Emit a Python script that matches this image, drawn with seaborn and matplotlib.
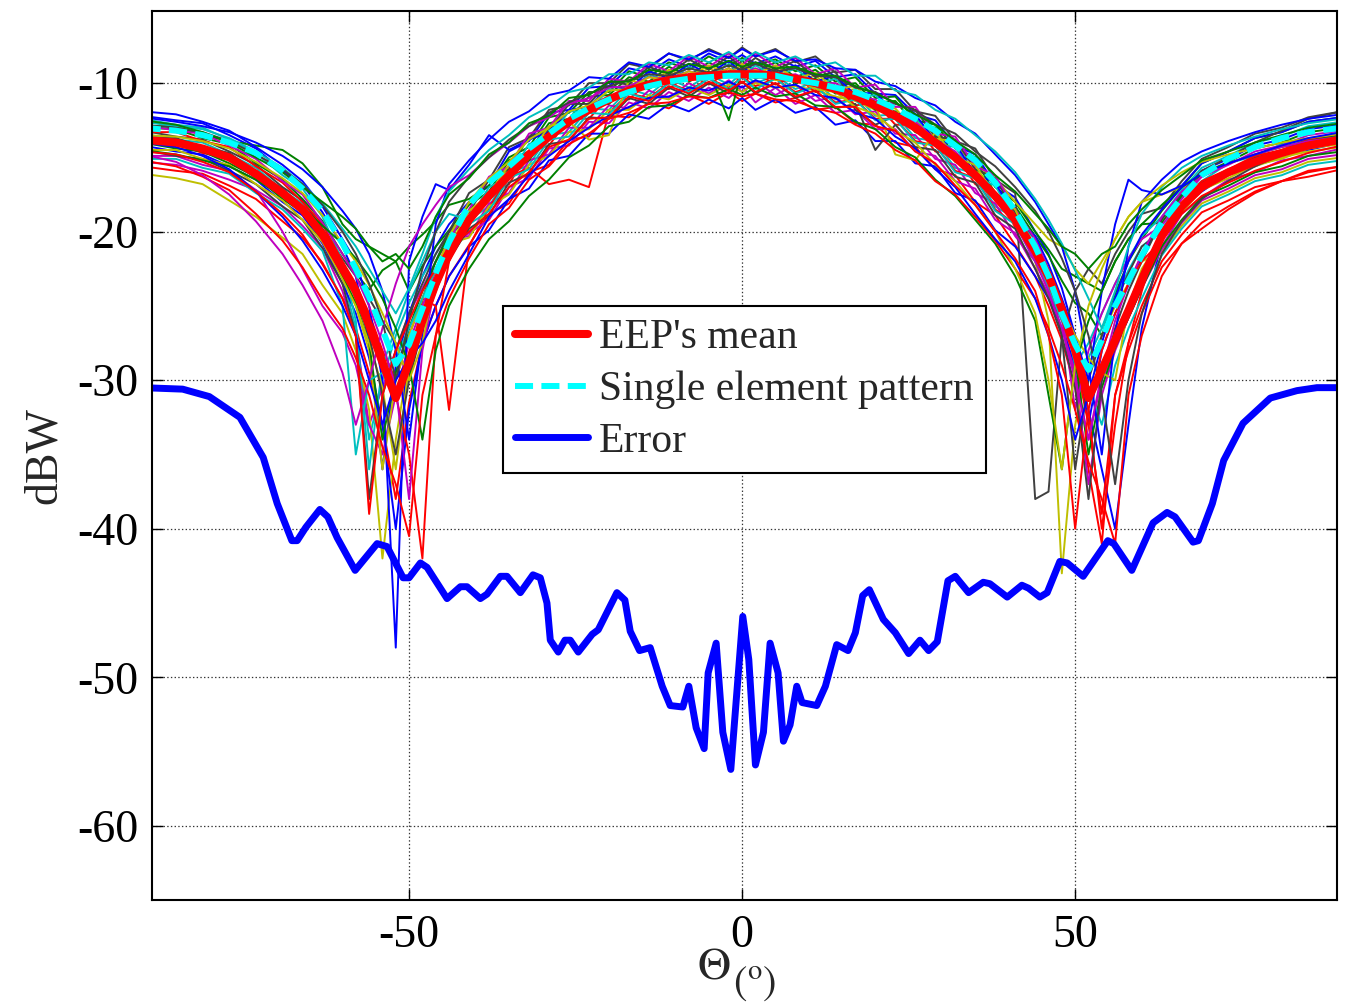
import pandas as pd
import seaborn as sns
import matplotlib
matplotlib.use('Agg')
import matplotlib.pyplot as plt

# angle grid of the embedded element patterns (deg)
theta_eep = [-90, -85, -81, -77, -73, -69, -66, -63,
             -60, -58, -56, -54, -52, -50, -48, -46, -44,
             -41, -38, -35, -32, -29, -26, -23, -20, -17, -14, -11, -8, -5, -2,
             0, 2, 5, 8, 11, 14, 17, 20, 23, 26, 29, 32, 35, 38, 41,
             44, 46, 48, 50, 52, 54, 56, 58, 60,
             63, 66, 69, 73, 77, 81, 85, 90]

mean_eep = [-13.8, -14.0, -14.4, -15.0, -16.1, -17.4, -18.5, -20.2,
            -22.5, -24.0, -26.3, -28.8, -31.2, -28.8, -26.0, -23.5, -21.5,
            -19.2, -17.6, -16.2, -14.8, -13.6, -12.6, -11.8, -11.1, -10.5, -10.1, -9.8, -9.6, -9.5, -9.4,
            -9.4, -9.4, -9.5, -9.7, -10.0, -10.4, -10.9, -11.5, -12.2, -13.0, -14.0, -15.0, -16.2, -17.6, -19.2,
            -21.3, -23.0, -25.2, -28.0, -31.2, -29.3, -27.3, -25.3, -23.2,
            -20.3, -18.3, -17.0, -16.0, -15.3, -14.7, -14.2, -13.8]

single_elem = [-13.0, -13.2, -13.5, -14.0, -14.7, -15.9, -17.1, -18.6,
               -20.8, -22.5, -24.4, -26.6, -28.9, -27.6, -25.2, -22.8, -20.7,
               -18.2, -16.7, -15.6, -14.4, -13.4, -12.4, -11.7, -11.1, -10.6, -10.2, -9.9, -9.7, -9.6, -9.5,
               -9.5, -9.5, -9.5, -9.8, -10.0, -10.3, -10.6, -11.1, -11.7, -12.4, -13.2, -14.2, -15.2, -16.7, -18.6,
               -21.0, -23.0, -25.5, -27.6, -29.3, -27.3, -25.0, -23.3, -21.6,
               -19.4, -17.7, -16.2, -15.1, -14.3, -13.7, -13.3, -13.0]

# individual embedded element patterns (read approximately from the bundle)
t01 = [-12.2, -12.5, -12.7, -13.5, -14.4, -15.9, -16.8, -18.7,
       -21.0, -23.0, -27.5, -36.0, -29.0, -25.5, -23.0, -21.0, -19.5,
       -18.0, -16.9, -14.6, -13.9, -12.0, -11.8, -10.3, -10.2, -9.0, -9.3, -8.4, -8.9, -8.0, -8.6,
       -8.1, -8.7, -8.2, -8.9, -8.5, -9.6, -9.4, -10.7, -10.8, -12.1, -12.5, -14.2, -14.8, -16.8, -17.7,
       -20.0, -21.5, -23.8, -27.0, -33.0, -28.0, -25.5, -23.6, -21.8,
       -19.1, -17.5, -15.9, -15.1, -14.2, -13.8, -13.1, -12.8]
t02 = [-13.0, -13.1, -13.7, -14.1, -15.4, -16.5, -17.8, -19.3,
       -21.5, -22.8, -23.9, -22.6, -22.0, -24.0, -22.3, -21.0, -19.9,
       -18.2, -17.3, -15.2, -14.6, -12.7, -12.4, -10.9, -10.8, -9.6, -9.9, -8.9, -9.5, -8.6, -9.3,
       -8.5, -9.2, -8.6, -9.6, -9.1, -10.2, -10.0, -11.3, -11.2, -12.8, -13.0, -14.9, -15.2, -17.4, -18.3,
       -20.3, -21.6, -23.3, -24.8, -25.5, -27.0, -24.2, -22.0, -20.5,
       -18.6, -17.0, -15.4, -14.6, -13.7, -13.3, -12.6, -12.3]
t03 = [-15.6, -15.9, -16.1, -16.9, -17.8, -19.3, -20.4, -22.1,
       -24.5, -26.5, -29.5, -33.0, -38.0, -31.5, -27.5, -25.0, -23.0,
       -20.9, -18.8, -18.1, -16.0, -15.5, -13.8, -13.6, -12.2, -12.3, -11.3, -11.7, -10.8, -11.4, -10.6,
       -11.2, -10.7, -11.3, -11.0, -11.8, -11.6, -12.7, -12.8, -14.0, -14.3, -15.8, -16.2, -18.0, -18.9, -20.9,
       -23.0, -25.0, -27.3, -30.5, -36.0, -41.0, -31.0, -27.5, -25.0,
       -22.0, -20.2, -18.7, -17.9, -17.0, -16.6, -15.9, -15.6]
t04 = [-13.4, -13.8, -14.0, -14.8, -15.7, -17.2, -18.1, -20.0,
       -23.0, -26.5, -34.0, -30.0, -27.0, -24.8, -23.0, -21.5, -20.0,
       -19.2, -18.3, -16.1, -15.5, -13.5, -13.3, -11.7, -11.8, -10.4, -10.8, -9.7, -10.3, -9.4, -10.1,
       -9.3, -10.0, -9.5, -10.4, -9.9, -11.1, -10.8, -12.2, -12.1, -13.7, -13.9, -15.7, -16.1, -18.3, -19.1,
       -21.0, -23.0, -25.5, -30.0, -28.5, -26.5, -24.5, -22.6, -21.0,
       -19.9, -17.7, -16.6, -15.4, -14.9, -14.1, -13.8, -13.3]
t05 = [-14.9, -14.9, -15.5, -15.9, -17.2, -18.3, -19.6, -21.1,
       -24.0, -27.0, -33.0, -30.5, -28.0, -25.5, -23.8, -22.0, -20.5,
       -20.3, -18.1, -17.4, -15.2, -14.8, -13.0, -13.0, -11.5, -11.7, -10.5, -11.0, -10.0, -10.7, -9.8,
       -10.6, -9.9, -10.8, -10.1, -11.2, -10.9, -12.1, -11.9, -13.4, -13.5, -15.1, -15.5, -17.4, -18.1, -20.3,
       -22.0, -23.8, -26.0, -29.5, -37.0, -31.0, -28.0, -25.8, -23.8,
       -21.0, -18.8, -17.7, -16.5, -16.0, -15.2, -14.9, -14.4]
t06 = [-16.1, -16.4, -16.8, -17.9, -19.0, -20.4, -21.5, -23.6,
       -25.5, -28.0, -32.0, -42.0, -34.0, -28.5, -25.0, -22.5, -20.5,
       -18.6, -17.8, -15.6, -15.0, -13.1, -12.8, -11.3, -11.3, -10.0, -10.3, -9.3, -9.8, -9.0, -9.6,
       -8.9, -9.6, -9.0, -9.9, -9.5, -10.6, -10.4, -11.7, -11.7, -13.2, -13.5, -15.2, -15.7, -17.8, -18.7,
       -22.0, -26.0, -43.0, -33.0, -29.0, -27.0, -25.0, -23.5, -22.0,
       -21.4, -19.6, -18.1, -17.3, -16.4, -16.0, -15.3, -15.0]
t07 = [-13.2, -13.6, -13.8, -14.6, -15.5, -17.0, -17.9, -19.8,
       -21.8, -23.0, -24.5, -26.0, -27.5, -30.0, -24.5, -22.0, -20.0,
       -17.4, -16.5, -14.3, -13.7, -11.8, -11.5, -10.0, -10.0, -8.7, -9.0, -8.0, -8.5, -7.7, -8.3,
       -7.6, -8.2, -7.7, -8.6, -8.2, -9.3, -9.1, -10.4, -10.4, -11.9, -12.2, -13.9, -14.4, -16.5, -17.4,
       -38.0, -37.5, -27.0, -24.0, -22.5, -23.5, -21.5, -20.0, -18.8,
       -18.4, -16.6, -15.1, -14.3, -13.4, -13.0, -12.3, -11.9]
t08 = [-14.2, -14.6, -14.8, -15.6, -16.5, -18.0, -18.9, -20.8,
       -23.5, -25.5, -28.5, -33.0, -40.0, -32.0, -27.5, -25.0, -23.0,
       -21.0, -19.9, -17.8, -17.1, -15.2, -14.9, -13.4, -13.4, -12.1, -12.4, -11.4, -11.9, -11.1, -11.7,
       -11.0, -11.8, -11.1, -12.0, -11.6, -12.8, -12.5, -13.9, -13.9, -15.4, -15.6, -17.4, -17.9, -19.9, -21.0,
       -23.0, -24.5, -26.5, -29.0, -32.0, -36.0, -40.0, -33.0, -26.5,
       -20.6, -18.4, -17.3, -16.1, -15.6, -14.8, -14.5, -14.0]
t09 = [-12.9, -12.9, -13.5, -13.9, -14.2, -14.5, -15.4, -17.0,
       -19.5, -20.5, -21.0, -21.5, -22.0, -21.0, -20.2, -19.3, -18.2,
       -17.8, -16.9, -15.0, -14.3, -12.3, -12.0, -10.6, -10.6, -9.2, -9.6, -8.6, -9.1, -8.2, -8.9,
       -8.3, -8.8, -8.4, -9.2, -8.8, -9.9, -9.6, -11.0, -10.9, -12.5, -12.8, -14.4, -15.0, -17.0, -18.0,
       -20.0, -21.2, -22.5, -23.0, -23.5, -24.0, -22.0, -20.5, -19.5,
       -19.4, -17.6, -16.1, -15.3, -14.4, -14.0, -13.3, -13.0]
t10 = [-14.1, -14.1, -14.7, -15.1, -16.4, -17.5, -18.8, -20.3,
       -22.0, -23.5, -25.5, -28.0, -30.0, -27.0, -24.5, -25.0, -32.0,
       -21.0, -18.4, -16.3, -15.7, -16.8, -16.5, -17.0, -12.0, -10.7, -11.0, -10.0, -10.5, -9.7, -10.3,
       -9.6, -10.2, -9.7, -10.6, -10.2, -11.3, -11.1, -12.4, -12.4, -13.9, -14.2, -15.9, -16.4, -18.5, -19.5,
       -21.8, -23.5, -25.8, -28.5, -33.0, -39.0, -31.0, -28.0, -25.5,
       -22.4, -20.8, -19.8, -18.5, -17.4, -16.6, -16.3, -15.8]
t11 = [-12.4, -12.8, -13.0, -13.8, -14.7, -16.2, -17.1, -19.0,
       -22.0, -26.0, -36.0, -29.0, -26.5, -24.0, -22.0, -20.0, -18.8,
       -19.2, -17.0, -16.3, -14.1, -13.7, -11.9, -11.9, -10.4, -10.6, -9.4, -9.9, -8.9, -9.6, -8.7,
       -9.5, -8.8, -9.6, -9.0, -10.1, -9.7, -11.0, -10.8, -12.3, -12.3, -14.1, -14.3, -16.3, -16.9, -19.2,
       -20.5, -22.5, -25.0, -29.0, -27.5, -25.5, -23.5, -21.8, -20.3,
       -19.0, -17.2, -15.7, -14.9, -14.0, -13.6, -12.9, -12.6]
t12 = [-15.3, -15.5, -15.9, -16.5, -17.2, -20.0, -22.5, -25.0,
       -26.8, -29.0, -33.0, -35.0, -31.0, -27.5, -25.0, -22.8, -21.0,
       -20.1, -19.2, -17.0, -16.4, -14.4, -14.2, -12.6, -12.7, -11.3, -11.7, -10.6, -11.2, -10.3, -11.0,
       -10.2, -11.3, -10.3, -11.4, -10.8, -12.0, -11.8, -13.1, -13.1, -14.6, -14.9, -16.6, -17.1, -19.2, -20.1,
       -22.5, -24.2, -26.5, -29.5, -34.0, -30.0, -27.8, -25.8, -23.8,
       -21.2, -19.4, -17.9, -17.1, -16.2, -15.8, -15.1, -14.8]
t13 = [-13.9, -13.9, -14.5, -14.9, -16.2, -17.3, -18.6, -20.1,
       -22.8, -25.0, -28.0, -36.0, -30.0, -27.0, -24.5, -22.5, -20.8,
       -20.4, -18.3, -17.5, -15.5, -14.9, -13.3, -13.1, -11.8, -11.8, -10.8, -11.1, -10.3, -10.8, -10.1,
       -10.6, -10.0, -10.3, -10.2, -10.5, -10.9, -11.2, -11.8, -12.0, -12.6, -13.5, -14.2, -15.5, -16.4, -18.0,
       -19.5, -20.5, -21.0, -22.5, -23.5, -22.0, -20.5, -19.0, -18.0,
       -17.5, -17.0, -16.8, -16.2, -15.6, -15.0, -14.6, -14.3]
t14 = [-14.5, -14.9, -15.1, -15.9, -16.8, -18.3, -19.2, -21.1,
       -23.5, -27.0, -38.0, -31.0, -28.0, -25.5, -23.5, -21.5, -20.0,
       -18.7, -16.5, -15.8, -13.6, -13.2, -11.4, -11.4, -9.9, -10.1, -8.9, -9.4, -8.4, -9.1, -8.2,
       -9.0, -8.3, -9.1, -8.5, -9.6, -9.2, -11.8, -12.8, -12.2, -11.8, -13.6, -13.8, -15.8, -16.4, -18.7,
       -20.5, -23.0, -27.0, -36.0, -30.0, -27.0, -24.8, -22.8, -21.0,
       -20.0, -18.2, -16.7, -15.9, -15.0, -14.6, -13.9, -13.6]
t15 = [-11.9, -12.1, -12.6, -13.2, -14.3, -15.5, -16.6, -18.3,
       -20.5, -22.0, -25.0, -30.0, -48.0, -22.0, -19.0, -16.8, -17.2,
       -15.5, -13.5, -14.5, -13.8, -13.3, -11.8, -11.6, -10.2, -10.4, -9.2, -9.7, -8.7, -9.4, -8.5,
       -9.3, -8.6, -9.4, -8.8, -9.9, -9.5, -10.8, -10.6, -12.1, -12.1, -13.9, -14.1, -16.1, -16.7, -19.0,
       -20.3, -22.2, -24.5, -27.0, -30.0, -24.0, -19.5, -16.5, -17.2,
       -17.5, -16.9, -15.4, -14.6, -13.7, -13.3, -12.6, -12.3]
t16 = [-14.0, -14.4, -14.6, -15.4, -16.3, -17.8, -18.7, -20.6,
       -23.0, -24.8, -27.5, -34.0, -29.5, -26.5, -24.0, -22.0, -20.3,
       -19.0, -17.9, -15.9, -15.2, -13.3, -12.9, -11.5, -11.4, -10.2, -10.4, -9.5, -9.9, -9.2, -12.5,
       -9.1, -9.7, -9.2, -10.0, -9.7, -10.7, -10.6, -11.8, -11.9, -13.3, -13.7, -15.3, -15.9, -17.9, -18.9,
       -21.5, -23.2, -25.5, -28.5, -35.0, -30.5, -27.8, -25.8, -23.8,
       -21.0, -19.2, -17.7, -16.9, -16.0, -15.6, -14.9, -14.6]
t17 = [-13.3, -13.3, -13.9, -14.3, -15.6, -16.7, -18.0, -19.5,
       -22.0, -23.8, -26.0, -28.5, -31.0, -35.0, -42.0, -27.0, -22.0,
       -19.6, -17.5, -16.8, -14.6, -14.2, -12.4, -12.4, -10.9, -11.1, -9.9, -10.4, -9.4, -10.1, -9.2,
       -10.0, -9.3, -10.1, -9.5, -10.6, -10.2, -11.5, -11.3, -12.8, -12.8, -14.6, -14.8, -16.8, -17.4, -19.7,
       -21.5, -23.2, -25.5, -28.0, -32.0, -40.0, -33.0, -27.5, -24.0,
       -19.9, -18.1, -16.6, -15.8, -14.9, -14.5, -13.8, -13.5]
t18 = [-15.1, -15.1, -15.7, -16.1, -17.4, -18.5, -19.8, -21.3,
       -25.0, -35.0, -30.0, -29.5, -28.5, -26.5, -24.5, -22.5, -21.0,
       -19.5, -18.6, -16.4, -15.8, -13.8, -13.6, -12.0, -12.1, -10.7, -11.1, -10.0, -10.6, -9.7, -10.4,
       -9.6, -10.4, -9.7, -10.7, -10.2, -11.4, -11.1, -12.5, -12.4, -14.0, -14.2, -16.0, -16.4, -18.6, -19.5,
       -22.0, -23.8, -26.0, -28.5, -30.5, -33.0, -29.0, -26.5, -24.5,
       -21.6, -19.8, -18.3, -17.5, -16.6, -16.2, -15.5, -15.2]
t19 = [-12.8, -13.2, -13.4, -14.2, -15.1, -16.6, -17.5, -19.4,
       -21.5, -23.0, -25.0, -27.5, -30.5, -38.0, -28.0, -23.5, -20.5,
       -18.5, -16.3, -15.6, -13.4, -13.0, -11.2, -11.2, -9.7, -9.9, -8.7, -9.2, -8.2, -8.9, -8.0,
       -8.8, -8.0, -8.9, -8.3, -9.4, -9.0, -10.3, -10.1, -11.6, -11.6, -13.4, -13.6, -15.6, -16.2, -18.5,
       -20.5, -22.5, -25.5, -32.0, -28.0, -25.5, -23.5, -21.8, -20.5,
       -19.6, -17.8, -16.3, -15.5, -14.6, -14.2, -13.5, -13.2]
t20 = [-14.5, -14.5, -15.1, -15.5, -16.8, -17.9, -19.2, -20.7,
       -23.2, -25.0, -27.5, -30.5, -36.0, -29.0, -25.5, -23.0, -21.0,
       -18.6, -17.5, -15.5, -14.8, -12.9, -12.6, -13.8, -13.5, -9.8, -10.1, -9.1, -9.6, -8.8, -9.4,
       -8.7, -9.4, -8.8, -9.7, -9.3, -10.4, -10.2, -11.5, -14.8, -15.2, -13.3, -15.0, -15.5, -17.6, -18.5,
       -21.5, -23.0, -25.0, -27.0, -28.5, -29.5, -30.0, -25.0, -22.5,
       -20.5, -18.7, -17.2, -16.4, -15.5, -15.1, -14.4, -14.1]
t21 = [-13.7, -13.7, -14.3, -14.7, -16.0, -17.1, -18.4, -19.9,
       -22.5, -24.5, -27.0, -31.0, -35.0, -30.0, -26.5, -24.0, -21.8,
       -19.8, -18.9, -16.7, -16.1, -14.1, -13.9, -12.3, -12.4, -11.0, -11.4, -10.3, -10.9, -10.0, -10.7,
       -9.9, -10.7, -10.0, -11.0, -10.5, -11.7, -11.4, -14.5, -12.8, -14.3, -14.5, -16.3, -16.7, -18.9, -19.8,
       -22.5, -24.5, -27.0, -30.5, -38.0, -30.0, -26.5, -24.0, -22.0,
       -19.2, -17.4, -15.9, -15.0, -14.0, -13.2, -12.4, -11.9]
t22 = [-12.3, -12.6, -12.9, -13.3, -14.0, -14.9, -15.8, -17.0,
       -18.6, -19.8, -21.5, -24.0, -28.0, -34.0, -27.0, -19.5, -16.8,
       -15.2, -13.8, -12.6, -11.9, -10.8, -10.5, -9.6, -9.7, -8.6, -8.9, -8.0, -8.4, -7.8, -8.3,
       -7.7, -8.2, -7.8, -8.5, -8.4, -9.0, -9.1, -9.9, -10.2, -11.0, -11.5, -12.6, -13.4, -14.8, -16.2,
       -18.0, -19.5, -21.0, -24.0, -29.0, -35.0, -27.0, -21.0, -18.0,
       -16.5, -15.3, -14.6, -13.9, -13.3, -12.8, -12.4, -12.1]
t23 = [-14.5, -14.8, -15.2, -15.6, -16.5, -17.6, -18.4, -19.6,
       -20.8, -21.8, -23.0, -24.5, -26.5, -29.0, -34.0, -28.0, -25.0,
       -22.5, -20.5, -19.3, -17.6, -16.5, -15.0, -14.2, -12.9, -12.6, -11.6, -11.5, -10.8, -11.0, -10.4,
       -10.8, -10.3, -10.9, -10.7, -11.5, -11.6, -12.6, -13.1, -14.3, -15.0, -16.5, -17.6, -19.2, -20.8, -23.0,
       -26.0, -31.0, -36.0, -29.0, -26.0, -24.0, -22.0, -20.5, -19.5,
       -18.2, -17.0, -16.1, -15.4, -14.8, -14.3, -13.9, -13.5]
t24 = [-15.2, -15.6, -16.3, -17.2, -18.8, -20.6, -22.4, -24.6,
       -26.5, -28.5, -31.0, -34.5, -37.0, -40.5, -31.0, -27.0, -24.5,
       -21.8, -19.5, -18.4, -16.5, -15.6, -14.1, -13.4, -12.4, -12.0, -11.4, -11.3, -10.9, -11.0, -10.6,
       -10.9, -10.7, -11.1, -11.2, -11.7, -12.0, -12.8, -13.4, -14.5, -15.2, -16.6, -17.5, -19.0, -20.6, -22.5,
       -24.5, -26.5, -29.0, -32.0, -35.5, -38.0, -41.0, -31.0, -27.0,
       -23.0, -20.8, -19.4, -18.3, -17.3, -16.6, -16.0, -15.6]
t25 = [-12.6, -12.9, -13.1, -13.7, -14.6, -15.7, -16.8, -18.1,
       -19.8, -21.0, -22.5, -24.0, -25.5, -23.8, -21.5, -19.0, -17.3,
       -15.8, -14.5, -13.5, -12.3, -11.6, -10.6, -10.3, -9.4, -9.4, -8.6, -8.8, -8.1, -8.6, -7.9,
       -8.5, -7.9, -8.6, -8.2, -8.9, -8.6, -9.5, -9.5, -10.5, -10.8, -11.8, -12.4, -13.5, -14.6, -16.0,
       -17.8, -19.2, -20.8, -22.6, -24.5, -26.5, -24.0, -21.0, -18.8,
       -17.0, -15.7, -14.9, -14.2, -13.6, -13.1, -12.7, -12.4]
t26 = [-14.8, -15.3, -16.2, -17.5, -19.3, -21.5, -23.6, -26.0,
       -29.5, -33.0, -30.0, -26.5, -23.5, -21.0, -19.5, -18.2, -17.0,
       -16.2, -15.0, -14.0, -12.9, -12.3, -11.4, -11.0, -10.3, -10.2, -9.6, -9.7, -9.2, -9.5, -9.0,
       -9.4, -9.0, -9.6, -9.4, -10.0, -10.0, -10.9, -11.1, -12.1, -12.6, -13.8, -14.6, -16.1, -17.4, -19.5,
       -22.0, -24.0, -26.5, -30.0, -34.0, -29.5, -26.0, -23.5, -21.5,
       -19.0, -17.3, -16.3, -15.4, -14.8, -14.3, -13.9, -13.6]
t27 = [-13.5, -13.6, -13.9, -14.4, -15.3, -16.4, -17.4, -18.9,
       -20.8, -22.0, -23.6, -25.5, -27.5, -30.0, -27.5, -23.0, -20.3,
       -18.0, -16.4, -15.3, -13.8, -13.0, -11.9, -11.5, -10.5, -10.4, -9.6, -9.8, -9.2, -9.6, -9.0,
       -9.5, -9.1, -9.8, -9.7, -10.4, -10.6, -11.6, -12.1, -13.2, -14.0, -15.5, -16.6, -18.2, -20.0, -22.5,
       -25.5, -30.0, -36.0, -29.0, -25.0, -22.5, -20.5, -19.0, -18.0,
       -16.9, -16.0, -15.3, -14.8, -14.4, -14.0, -13.7, -13.4]
t28 = [-12.8, -13.0, -13.3, -13.9, -14.8, -15.8, -16.8, -18.2,
       -20.0, -21.5, -23.5, -26.0, -30.0, -26.0, -22.5, -20.0, -18.0,
       -16.3, -15.0, -13.8, -12.9, -12.0, -11.3, -10.7, -10.2, -9.8, -9.4, -9.5, -9.0, -9.3, -8.8,
       -9.1, -8.7, -9.2, -9.0, -9.5, -9.6, -10.3, -10.6, -11.4, -11.8, -12.8, -13.4, -14.6, -15.6, -17.0,
       -18.6, -20.0, -21.8, -24.0, -27.0, -31.0, -37.0, -30.0, -25.5,
       -21.5, -19.3, -17.8, -16.6, -15.6, -14.8, -14.1, -13.6]
t29 = [-14.0, -14.3, -14.9, -15.8, -17.3, -19.0, -20.6, -22.6,
       -25.0, -27.0, -30.0, -33.0, -30.0, -28.5, -27.5, -26.0, -24.0,
       -21.5, -19.0, -17.8, -16.2, -14.9, -13.9, -13.0, -12.2, -11.6, -11.0, -10.9, -10.3, -10.5, -9.9,
       -10.3, -9.8, -10.3, -10.1, -10.8, -11.0, -12.0, -12.4, -13.6, -14.4, -15.8, -17.0, -18.8, -20.5, -22.0,
       -24.5, -27.0, -30.0, -34.0, -31.0, -27.5, -24.5, -22.0, -20.2,
       -18.5, -17.0, -16.1, -15.4, -14.8, -14.2, -13.7, -13.3]
t30 = [-12.5, -12.8, -13.3, -14.0, -15.0, -16.0, -17.0, -18.0,
       -19.0, -19.8, -21.0, -22.0, -21.5, -22.5, -21.0, -19.0, -17.5,
       -16.4, -14.8, -14.0, -12.7, -12.2, -11.0, -10.8, -9.9, -9.9, -9.1, -9.3, -8.7, -9.0, -8.5,
       -8.9, -8.6, -9.0, -8.9, -9.4, -9.5, -10.2, -10.7, -11.3, -12.1, -12.8, -13.9, -14.8, -16.2, -17.3,
       -18.8, -19.8, -21.0, -21.5, -22.5, -21.5, -21.0, -19.5, -18.5,
       -17.2, -16.2, -15.2, -14.6, -14.0, -13.5, -13.0, -12.7]
t31 = [-14.6, -14.8, -15.3, -16.0, -17.3, -18.8, -20.2, -22.2,
       -24.5, -27.0, -39.0, -31.0, -28.0, -26.0, -24.0, -22.5, -21.0,
       -20.0, -18.8, -17.0, -16.0, -14.3, -13.8, -12.4, -12.3, -10.9, -11.2, -10.2, -10.7, -9.9, -10.5,
       -9.9, -10.6, -10.0, -10.9, -10.5, -11.6, -11.6, -12.9, -13.2, -14.6, -15.4, -16.9, -18.2, -20.0, -21.8,
       -24.0, -27.0, -31.0, -40.0, -32.0, -28.0, -25.5, -23.5, -22.0,
       -20.6, -18.8, -17.6, -16.7, -15.9, -15.3, -14.7, -14.2]

# error between EEP mean and single element pattern
err_theta = [-90, -84, -80, -75.4, -71.9, -69.8, -67.6, -66.8, -65.5, -63.4,
             -62.2, -60.8, -58.1, -54.8, -53.3, -50.9, -50.0, -48.3, -47.3, -44.3,
             -42.3, -41.3, -39.3, -38.3, -36.3, -35.3, -33.3, -31.4, -30.3, -29.3,
             -28.8, -27.6, -26.6, -25.8, -24.6, -22.5, -21.6, -18.8, -17.6, -16.8,
             -15.4, -13.8, -12.0, -10.8, -8.9, -8.0, -6.9, -5.7, -5.1, -3.9,
             -2.9, -1.7, 0.1, 1.0, 2.0, 3.2, 4.2, 5.4, 6.2, 7.2,
             8.2, 9.0, 11.2, 12.5, 14.2, 15.9, 17.0, 18.1, 19.1, 21.2,
             23.0, 25.0, 26.7, 28.0, 29.3, 30.9, 32.0, 34.0, 36.2, 37.2,
             39.8, 42.0, 43.0, 44.7, 45.8, 47.7, 48.8, 51.2, 54.9, 55.8,
             58.5, 61.7, 63.8, 65.0, 67.7, 68.5, 70.6, 72.3, 75.2, 79.3,
             83.3, 86.3, 90]
err_db = [-30.5, -30.6, -31.1, -32.5, -35.2, -38.3, -40.8, -40.8, -39.9, -38.7,
          -39.2, -40.6, -42.8, -41.0, -41.2, -43.3, -43.3, -42.3, -42.6, -44.7,
          -43.9, -43.9, -44.7, -44.4, -43.2, -43.2, -44.3, -43.1, -43.3, -45.0,
          -47.5, -48.3, -47.5, -47.5, -48.3, -47.1, -46.8, -44.3, -44.8, -46.9,
          -48.2, -48.0, -50.6, -51.9, -52.0, -50.6, -53.4, -54.8, -49.7, -47.7,
          -53.7, -56.2, -45.9, -48.8, -55.9, -53.7, -47.7, -49.7, -54.3, -53.2,
          -50.6, -51.7, -51.9, -50.6, -47.8, -48.2, -47.0, -44.5, -44.1, -46.1,
          -47.0, -48.4, -47.5, -48.2, -47.6, -43.5, -43.2, -44.3, -43.6, -43.7,
          -44.6, -43.8, -44.0, -44.6, -44.3, -42.2, -42.3, -43.2, -40.8, -41.0,
          -42.8, -39.6, -38.9, -39.2, -40.9, -40.8, -38.3, -35.4, -32.9, -31.2,
          -30.7, -30.5, -30.5]

y_ticks = [-60, -50, -40, -30, -20, -10]
x_ticks = [-50, 0, 50]

# old matlab colour order b g r c m y k
matlab_colors = ['#0000ff', '#008000', '#ff0000', '#00bfbf', '#bf00bf', '#bfbf00', '#404040']

eep_traces = [t01, t02, t03, t04, t05, t06, t07, t08, t09, t10, t11, t12, t13, t14, t15, t16,
              t17, t18, t19, t20, t21, t22, t23, t24, t25, t26, t27, t28, t29, t30, t31]

rows = []
for k, tr in enumerate(eep_traces):
    for th, v in zip(theta_eep, tr):
        rows.append((th, v, 'e%02d' % k))
df = pd.DataFrame(rows, columns=['theta', 'db', 'elem'])
pal = {'e%02d' % k: matlab_colors[k % 7] for k in range(len(eep_traces))}

sns.set_theme(style='white')
plt.rcParams['font.family'] = ['Liberation Serif', 'DejaVu Serif']
plt.rcParams['mathtext.fontset'] = 'stix'
plt.rcParams['axes.unicode_minus'] = False
plt.rcParams['lines.scale_dashes'] = False

fig = plt.figure(figsize=(13.45, 10.08), dpi=100)
ax = fig.add_axes([0.113, 0.107, 0.881, 0.882])

sns.lineplot(data=df, x='theta', y='db', hue='elem', palette=pal, estimator=None,
             lw=1.4, legend=False, ax=ax)
sns.lineplot(x=theta_eep, y=mean_eep, color='red', lw=5.8, label="EEP's mean", ax=ax)
sns.lineplot(x=theta_eep, y=single_elem, color='cyan', lw=4.3, label='Single element pattern', ax=ax)
ax.lines[-1].set_dashes([13, 6])
sns.lineplot(x=err_theta, y=err_db, color='blue', lw=5, label='Error', ax=ax)

ax.set_xlim(-88.6, 89.3)
ax.set_ylim(-65, -5.15)
ax.set_xticks(x_ticks)
ax.set_yticks(y_ticks)
ax.grid(True, linestyle=':', color='#333333', lw=0.9)
ax.set_axisbelow(True)
ax.tick_params(direction='in', length=8, width=1, top=True, right=True,
               bottom=True, left=True, colors='black', labelsize=33, pad=10)
for s in ax.spines.values():
    s.set_color('black')
    s.set_linewidth(1.5)

ax.set_ylabel('dBW', fontsize=33, labelpad=8)
ax.set_xlabel('')
# theta label with a large "(o)" subscript, as in the original
fig.text(714 / 1345, 1 - 967 / 1008, r'$\Theta$', fontsize=33, ha='center', va='center')
fig.text(755 / 1345, 1 - 984 / 1008, r'$(^{\mathrm{o}})$', fontsize=29, ha='center', va='center')

leg = ax.legend(loc='upper left', bbox_to_anchor=(0.2962, 0.668), fontsize=30,
                frameon=True, fancybox=False, framealpha=1, edgecolor='black',
                handlelength=1.75, handletextpad=0.25, labelspacing=0.32,
                borderpad=0.3, borderaxespad=0)
leg.get_frame().set_linewidth(1.5)

fig.savefig('out.png', dpi=100)
